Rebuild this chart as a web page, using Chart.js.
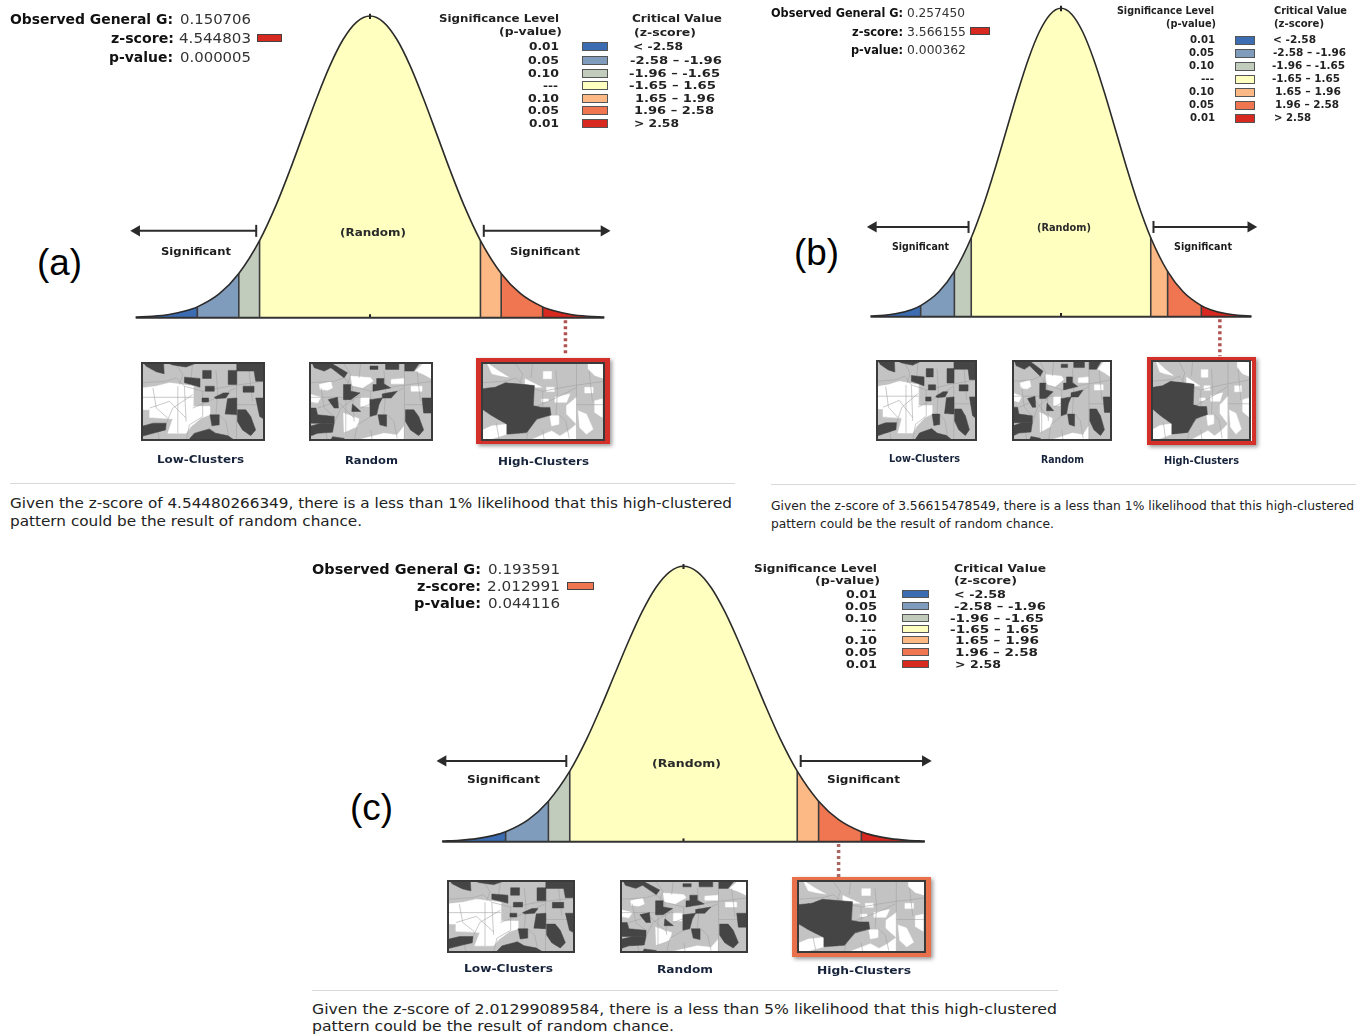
<!DOCTYPE html>
<html>
<head>
<meta charset="utf-8">
<title>General G reports</title>
<script src="https://cdn.jsdelivr.net/npm/chart.js@4"></script>
<style>
html, body { margin: 0; padding: 0; background: #fff; }
#page { position: relative; width: 1360px; height: 1036px; overflow: hidden; }
#page canvas { position: absolute; }
.t { position: absolute; white-space: nowrap; font-family: "DejaVu Sans"; transform-origin: 0 50%; color: #222; }
.b { position: absolute; box-sizing: border-box; }
</style>
</head>
<body>
<div id="page"></div>
<script>
// bell curve (height 0..1 against z-score)
const zKnots = [-3.5, -3.25, -3, -2.75, -2.58, -2.25, -1.96, -1.65, -1.4, -1.2, -1, -0.8, -0.6, -0.4, -0.2, 0, 0.2, 0.4, 0.6, 0.8, 1, 1.2, 1.4, 1.65, 1.96, 2.25, 2.58, 2.75, 3, 3.25, 3.5];
const curveHeights = [0.002, 0.005, 0.011, 0.023, 0.036, 0.08, 0.147, 0.256, 0.375, 0.487, 0.607, 0.726, 0.835, 0.923, 0.98, 1, 0.98, 0.923, 0.835, 0.726, 0.607, 0.487, 0.375, 0.256, 0.147, 0.08, 0.036, 0.023, 0.011, 0.005, 0.002];
const bandEdges = [-3.5, -2.58, -1.96, -1.65, 1.65, 1.96, 2.58, 3.5];
const bandColors = ["#3c6db3", "#809cbc", "#c1ccbd", "#ffffbf", "#fdb985", "#ef7650", "#d7291f"];
const pValues = ["0.01", "0.05", "0.10", "---", "0.10", "0.05", "0.01"];
const zRanges = ["< -2.58", "-2.58 \u2013 -1.96", "-1.96 \u2013 -1.65", "-1.65 \u2013 1.65", "1.65 \u2013 1.96", "1.96 \u2013 2.58", "> 2.58"];

const observedG = ["0.150706", "0.257450", "0.193591"];
const zScores = ["4.544803", "3.566155", "2.012991"];
const pScores = ["0.000005", "0.000362", "0.044116"];
const zLong = ["4.54480266349", "3.56615478549", "2.01299089584"];
const likelihood = ["1%", "1%", "5%"];
const pointerZ = [2.92, 2.92, 2.25];
const arrowHeights = [0.288, 0.291, 0.293];
const arrowTips = [[-3.56, 3.57], [-3.54, 3.58], [-3.56, 3.58]];

// map thumbnails, traced in a 14..388 x 13..248 frame
const mapLines = [
  [[302, 13], [302, 248]], [[302, 140], [388, 140]],
  [[14, 75], [90, 70], [120, 60], [145, 85], [200, 100], [280, 85], [388, 70]],
  [[200, 100], [200, 175], [160, 200], [150, 248]],
  [[90, 195], [110, 150], [170, 110]], [[240, 38], [245, 100], [240, 170]],
  [[300, 90], [240, 120], [170, 150]], [[250, 170], [270, 190], [280, 240]],
  [[40, 150], [100, 130], [150, 180]], [[120, 20], [140, 50], [130, 80]],
  [[340, 40], [350, 130]], [[170, 13], [165, 60]], [[60, 195], [70, 248]], [[200, 215], [205, 248]],
  [[50, 90], [60, 150], [95, 180]], [[125, 85], [125, 225]], [[145, 85], [150, 190]], [[18, 118], [172, 118]]
];
const lowDark = [
  [[20, 13], [82, 13], [84, 48], [60, 42], [30, 26]],
  [[85, 13], [190, 13], [150, 28], [110, 22]],
  [[200, 38], [226, 38], [226, 62], [200, 62]],
  [[277, 38], [303, 38], [303, 80], [277, 80]],
  [[303, 13], [388, 13], [388, 70], [360, 70], [355, 40], [303, 40]],
  [[145, 58], [192, 62], [192, 88], [165, 80], [145, 75]],
  [[208, 85], [235, 85], [235, 100], [208, 100]],
  [[322, 85], [355, 85], [355, 103], [322, 103]],
  [[198, 120], [218, 120], [218, 132], [198, 132]],
  [[235, 118], [262, 105], [280, 105], [270, 120], [240, 122]],
  [[275, 122], [303, 120], [303, 170], [268, 168]],
  [[305, 155], [330, 155], [345, 175], [360, 215], [345, 232], [320, 215], [305, 190]],
  [[360, 120], [388, 120], [388, 185], [372, 175]],
  [[14, 205], [50, 195], [90, 195], [88, 215], [50, 225], [14, 235]],
  [[155, 248], [175, 225], [220, 212], [240, 225], [275, 232], [300, 248]],
  [[222, 170], [250, 170], [250, 200], [228, 203]]
];
const lowWhite = [
  [[18, 90], [60, 85], [100, 75], [172, 85], [172, 145], [222, 145], [222, 170], [195, 180], [165, 205], [150, 225], [95, 225], [110, 182], [40, 178], [40, 155], [22, 155], [18, 150]]
];
const randomDark = [
  [[22, 13], [75, 13], [130, 45], [120, 60], [80, 30], [60, 40], [30, 30]],
  [[198, 25], [222, 25], [222, 35], [198, 35]],
  [[245, 13], [285, 13], [285, 35], [245, 35]],
  [[303, 13], [350, 13], [330, 40], [303, 40]],
  [[355, 120], [388, 120], [388, 165], [360, 165]],
  [[118, 80], [140, 80], [140, 100], [168, 105], [140, 125], [118, 125]],
  [[218, 62], [240, 62], [240, 78], [260, 90], [207, 100], [207, 80], [218, 80]],
  [[72, 125], [100, 118], [103, 150], [90, 150]],
  [[145, 138], [170, 160], [143, 160]],
  [[198, 125], [235, 120], [225, 140], [218, 170], [198, 175]],
  [[235, 108], [280, 100], [262, 120], [235, 120]],
  [[222, 170], [248, 170], [248, 205], [228, 200]],
  [[305, 155], [330, 155], [345, 175], [360, 215], [345, 232], [320, 215], [305, 190]],
  [[14, 150], [35, 150], [40, 170], [90, 175], [90, 195], [14, 195]],
  [[14, 205], [50, 195], [90, 195], [85, 222], [40, 225], [14, 235]],
  [[78, 248], [85, 235], [120, 240], [120, 248]]
];
const randomWhite = [
  [[335, 40], [360, 15], [388, 15], [388, 65], [360, 50]],
  [[45, 80], [80, 72], [85, 90], [70, 97], [48, 95]],
  [[14, 108], [50, 118], [40, 135], [14, 130]],
  [[140, 55], [200, 60], [207, 70], [175, 90], [145, 85]],
  [[170, 120], [195, 120], [195, 145], [170, 145]],
  [[262, 65], [300, 62], [300, 78], [262, 78]],
  [[322, 85], [355, 85], [355, 100], [322, 100]],
  [[118, 165], [165, 182], [160, 205], [120, 222]],
  [[150, 248], [240, 225], [280, 230], [300, 205], [300, 248]]
];
const highDark = [
  [[14, 93], [57, 88], [87, 75], [175, 83], [172, 143], [197, 148], [222, 148], [225, 171], [182, 183], [152, 223], [92, 228], [92, 198], [47, 173], [17, 153], [14, 153]]
];
const highWhite = [
  [[32, 15], [72, 43], [97, 58], [67, 53], [47, 48]],
  [[202, 41], [227, 41], [227, 63], [202, 63]],
  [[337, 15], [388, 21], [388, 63], [357, 53], [337, 33]],
  [[147, 63], [197, 88], [177, 88], [147, 78]],
  [[212, 88], [235, 88], [235, 101], [212, 101]],
  [[327, 88], [352, 88], [352, 105], [327, 105]],
  [[197, 123], [217, 123], [217, 131], [197, 131]],
  [[237, 118], [282, 108], [272, 133], [237, 133]],
  [[272, 143], [302, 118], [302, 198], [272, 168]],
  [[307, 158], [332, 168], [352, 213], [332, 228], [312, 208]],
  [[357, 128], [380, 123], [380, 178], [357, 163]],
  [[14, 218], [47, 203], [92, 198], [92, 228], [27, 248], [14, 248]],
  [[157, 248], [227, 218], [252, 233], [277, 218], [302, 198], [302, 248]],
  [[222, 173], [249, 173], [249, 198], [227, 203]]
];

const page = document.getElementById("page");

function text(str, x, yc, w, size, bold, color, family) {
  const s = document.createElement("span");
  s.className = "t";
  s.textContent = str;
  s.style.fontSize = size + "px";
  s.style.left = x + "px";
  s.style.top = (yc - size) + "px";
  s.style.lineHeight = (size * 2) + "px";
  if (bold) s.style.fontWeight = "bold";
  if (color) s.style.color = color;
  if (family) s.style.fontFamily = family;
  page.appendChild(s);
  s.style.transform = "scaleX(" + (w / s.getBoundingClientRect().width) + ")";
}

function box(x, y, w, h, css) {
  const d = document.createElement("div");
  d.className = "b";
  d.style.cssText = "left:" + x + "px;top:" + y + "px;width:" + w + "px;height:" + h + "px;" + css;
  page.appendChild(d);
}

function heightAt(z) {
  return curveHeights[zKnots.indexOf(z)];
}

function pts(xs, ys) {
  return xs.map((x, i) => ({ x: x, y: ys[i] }));
}

// one bell curve, plot area lined up with cx/scale/baseY/unit of the panel
function bellChart(p, i) {
  const xr = 3.75, yTop = 1.03, yBot = -0.15;
  const c = document.createElement("canvas");
  c.width = 2 * xr * p.scale;
  c.height = (yTop - yBot) * p.unit;
  c.style.left = (p.cx - xr * p.scale) + "px";
  c.style.top = (p.baseY - yTop * p.unit) + "px";
  page.appendChild(c);

  const line = (data, color, width, extra) => Object.assign({ data: data, borderColor: color, borderWidth: width, pointRadius: 0, fill: false, clip: false }, extra);
  const ds = [];
  ds.push(line(pts(zKnots, curveHeights), "#2b2b2b", 1.6, { cubicInterpolationMode: "monotone" }));
  bandEdges.slice(1, -1).forEach(z => ds.push(line([{ x: z, y: 0 }, { x: z, y: heightAt(z) }], "#3d3d3d", 1.6)));
  ds.push(line([{ x: -3.5, y: 0 }, { x: 3.5, y: 0 }], "#333", 2));
  ds.push(line([{ x: 0, y: 0 }, { x: 0, y: 0.012 }], "#222", 2));
  ds.push(line([{ x: 0, y: 0.99 }, { x: 0, y: 1.008 }], "#222", 2));
  ds.push(line([{ x: pointerZ[i], y: -0.008 }, { x: pointerZ[i], y: -0.128 }], p.pointer, 3.5, { borderDash: [3, 3] }));
  [-1.7, 1.7].forEach((z, k) => {
    // the triangle marker reaches past its point, so pull it back by its radius
    const tip = arrowTips[i][k] + (k ? -5 : 5) / p.scale;
    ds.push(line([{ x: z, y: arrowHeights[i] }, { x: tip, y: arrowHeights[i] }], "#2b2b2b", 2, {
      pointRadius: [6, 4.5],
      pointStyle: ["line", "triangle"],
      pointRotation: [90, k ? 90 : -90],
      pointBorderColor: "#2b2b2b",
      pointBackgroundColor: "#2b2b2b",
      pointBorderWidth: 2
    }));
  });
  bandColors.forEach((col, b) => {
    const idx = zKnots.map((z, n) => n).filter(n => zKnots[n] >= bandEdges[b] && zKnots[n] <= bandEdges[b + 1]);
    ds.push(line(idx.map(n => ({ x: zKnots[n], y: curveHeights[n] })), "transparent", 0, {
      fill: "origin", backgroundColor: col, cubicInterpolationMode: "monotone"
    }));
  });

  new Chart(c, {
    type: "line",
    data: { datasets: ds },
    options: {
      responsive: false,
      animation: false,
      events: [],
      layout: { padding: 0, autoPadding: false },
      plugins: { legend: { display: false }, tooltip: { enabled: false } },
      scales: {
        x: { type: "linear", min: -xr, max: xr, display: false },
        y: { type: "linear", min: yBot, max: yTop, display: false }
      }
    }
  });
}

function mapChart(x, y, w, h, dark, white) {
  const c = document.createElement("canvas");
  c.width = w;
  c.height = h;
  c.style.left = x + "px";
  c.style.top = y + "px";
  c.style.background = "#c3c3c3";
  page.appendChild(c);
  // small tension keeps Chart.js off its fast path, which merges close points
  const shape = (poly, col) => ({ data: poly.concat([poly[0]]).map(q => ({ x: q[0], y: q[1] })), showLine: true, fill: "shape", backgroundColor: col, borderColor: col, borderWidth: 0.5, pointRadius: 0, tension: 0.001 });
  const ds = dark.map(q => shape(q, "#454545"))
    .concat(mapLines.map(q => ({ data: q.map(r => ({ x: r[0], y: r[1] })), showLine: true, borderColor: "#a2a2a2", borderWidth: 0.6, pointRadius: 0, tension: 0.001 })))
    .concat(white.map(q => shape(q, "#ffffff")));
  new Chart(c, {
    type: "scatter",
    data: { datasets: ds },
    options: {
      responsive: false,
      animation: false,
      events: [],
      layout: { padding: 0, autoPadding: false },
      plugins: { legend: { display: false }, tooltip: { enabled: false } },
      scales: {
        x: { type: "linear", min: 14, max: 388, display: false },
        y: { type: "linear", min: 13, max: 248, reverse: true, display: false }
      }
    }
  });
  box(x, y, w, h, "border:2px solid #3a3a3a;");
}

const panels = [
  {
    cx: 370, scale: 67, baseY: 318, unit: 302, pointer: "#b0524f",
    sz: 13.5, small: 10.5, swatch: [257, 34, 25, 8], swatchColor: bandColors[6],
    head: [[10, 19, 163], [180, 19, 71], [111, 38, 63], [179, 38, 72], [109, 57, 64], [180, 57, 71]],
    legendHead: [[439, 18, 120], [499, 31, 63], [632, 18, 90], [634, 32, 62]],
    rows: [46.5, 60, 73, 85, 98, 110.5, 123],
    pX: [[529, 30], [528, 31], [528, 31], [543, 15], [528, 31], [528, 31], [529, 30]],
    swX: [582, 26, 9],
    zX: [[633, 50], [630, 92], [629, 91], [629, 87], [635, 80], [634, 80], [634, 45]],
    random: [340, 232, 66], sig: [[161, 251, 70], [510, 251, 70]],
    tag: ["(a)", 37, 263, 45, 36],
    maps: [[141, 362, 124, 79], [309, 362, 124, 79], [481, 362, 124, 79]],
    frame: [476, 358, 134, 86, 5, "#d3302a"],
    names: [[157, 459, 87], [345, 460, 53], [498, 461, 91]],
    hr: [10, 483, 725],
    lines: [[10, 503, 722], [10, 521, 352]], lineSize: 13.5
  },
  {
    cx: 1061.5, scale: 54.5, baseY: 317, unit: 309, pointer: "#b0524f",
    sz: 12.5, small: 10, swatch: [970, 27, 20, 8], swatchColor: bandColors[6],
    head: [[771, 12, 132], [907, 12, 58], [852, 31, 51], [907, 31, 59], [851, 49, 52], [907, 49, 59]],
    legendHead: [[1117, 11, 97], [1166, 24, 50], [1274, 11, 73], [1274, 24, 50]],
    rows: [40, 53, 66, 79, 92, 105, 118],
    pX: [[1190, 25], [1189, 25], [1189, 25], [1201, 13], [1189, 25], [1189, 25], [1190, 25]],
    swX: [1235, 20, 9],
    zX: [[1273, 43], [1273, 73], [1272, 73], [1272, 68], [1275, 66], [1275, 64], [1274, 37]],
    random: [1037, 228, 54], sig: [[892, 247, 57], [1174, 247, 58]],
    tag: ["(b)", 794, 253, 45, 36],
    maps: [[876, 360, 101, 81], [1012, 360, 100, 81], [1151, 360, 100, 81]],
    frame: [1147, 357, 109, 88, 4, "#d3302a"],
    names: [[889, 459, 71], [1041, 460, 43], [1164, 461, 75]],
    hr: [771, 484, 585],
    lines: [[771, 505, 583], [771, 523, 283]], lineSize: 12.5
  },
  {
    cx: 684, scale: 69, baseY: 842, unit: 276, pointer: "#a9675f",
    sz: 13.5, small: 10.5, swatch: [567, 582, 27, 8], swatchColor: bandColors[5],
    head: [[312, 569, 169], [488, 569, 72], [417, 586, 64], [487, 586, 73], [414, 603, 67], [488, 603, 72]],
    legendHead: [[754, 568, 123], [815, 580, 65], [954, 568, 92], [954, 580, 63]],
    rows: [594, 606, 618, 629, 640, 652, 664],
    pX: [[846, 31], [845, 32], [845, 32], [862, 14], [845, 32], [845, 32], [846, 31]],
    swX: [902, 27, 8],
    zX: [[954, 52], [954, 92], [950, 94], [950, 89], [955, 84], [955, 83], [955, 46]],
    random: [652, 763, 69], sig: [[467, 779, 73], [827, 779, 73]],
    tag: ["(c)", 350, 808, 43, 36],
    maps: [[447, 880, 128, 73], [620, 880, 128, 73], [797, 880, 129, 73]],
    frame: [792, 877, 139, 80, 5, "#e8704a"],
    names: [[464, 968, 89], [657, 969, 56], [817, 970, 94]],
    hr: [312, 990, 746],
    lines: [[312, 1009, 745], [312, 1026, 362]], lineSize: 13.5
  }
];

panels.forEach((p, i) => {
  bellChart(p, i);

  const heads = ["Observed General G:", observedG[i], "z-score:", zScores[i], "p-value:", pScores[i]];
  heads.forEach((s, n) => text(s, p.head[n][0], p.head[n][1], p.head[n][2], p.sz, n % 2 === 0, n % 2 === 0 ? "#111" : "#333"));
  box(p.swatch[0], p.swatch[1], p.swatch[2], p.swatch[3], "background:" + p.swatchColor + ";border:1px solid #444;");

  ["Significance Level", "(p-value)", "Critical Value", "(z-score)"].forEach((s, n) => {
    text(s, p.legendHead[n][0], p.legendHead[n][1], p.legendHead[n][2], p.small, true, "#222");
  });
  pValues.forEach((s, n) => {
    text(s, p.pX[n][0], p.rows[n], p.pX[n][1], p.small, true, "#222");
    box(p.swX[0], p.rows[n] - p.swX[2] / 2, p.swX[1], p.swX[2], "background:" + bandColors[n] + ";border:1px solid #555;");
    text(zRanges[n], p.zX[n][0], p.rows[n], p.zX[n][1], p.small, true, "#222");
  });

  text("(Random)", p.random[0], p.random[1], p.random[2], p.small, true, "#2a2a2a");
  p.sig.forEach(r => text("Significant", r[0], r[1], r[2], p.small, true, "#1c1c1c"));
  text(p.tag[0], p.tag[1], p.tag[2], p.tag[3], p.tag[4], false, "#000", "'Liberation Sans'");

  const f = p.frame;
  box(f[0], f[1], f[2], f[3], "border:" + f[4] + "px solid " + f[5] + ";box-shadow:2px 2px 4px #999;");
  mapChart(p.maps[0][0], p.maps[0][1], p.maps[0][2], p.maps[0][3], lowDark, lowWhite);
  mapChart(p.maps[1][0], p.maps[1][1], p.maps[1][2], p.maps[1][3], randomDark, randomWhite);
  mapChart(p.maps[2][0], p.maps[2][1], p.maps[2][2], p.maps[2][3], highDark, highWhite);
  ["Low-Clusters", "Random", "High-Clusters"].forEach((s, n) => text(s, p.names[n][0], p.names[n][1], p.names[n][2], p.small, true, "#16233a"));

  box(p.hr[0], p.hr[1], p.hr[2], 1, "background:#d9d9d9;");
  text("Given the z-score of " + zLong[i] + ", there is a less than " + likelihood[i] + " likelihood that this high-clustered", p.lines[0][0], p.lines[0][1], p.lines[0][2], p.lineSize, false, "#222");
  text("pattern could be the result of random chance.", p.lines[1][0], p.lines[1][1], p.lines[1][2], p.lineSize, false, "#222");
});
</script>
</body>
</html>
